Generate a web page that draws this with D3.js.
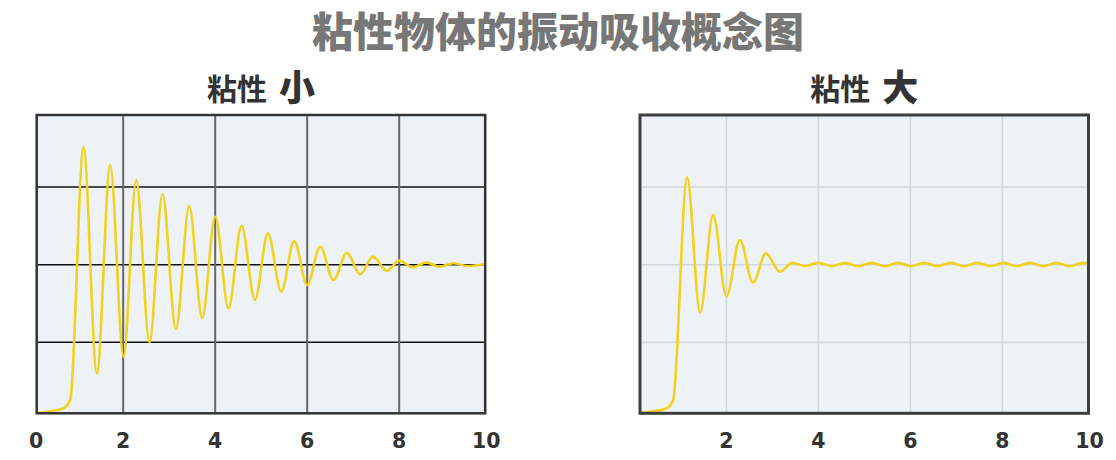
<!DOCTYPE html>
<html><head><meta charset="utf-8">
<script src="https://cdn.jsdelivr.net/npm/d3@7/dist/d3.min.js"></script>
<style>
html,body{margin:0;padding:0;background:#fff;}
svg{display:block;}
</style></head>
<body>
<svg id="c" width="1116" height="460"></svg>
<script>
const mainTitle = "粘性物体的振动吸收概念图";
const subTitles = [["粘性", "小"], ["粘性", "大"]];
const xTickValues = [[0, 2, 4, 6, 8, 10], [2, 4, 6, 8, 10]];
const xTickLabels = [["0", "2", "4", "6", "8", "10"], ["2", "4", "6", "8", "10"]];
const xGridValues = [2, 4, 6, 8];
const yGridValues = [0.5, 1.0, 1.5];

// low viscosity: response (extrema and knee points)
const lowX = [0.12, 0.41, 0.70, 0.85, 1.137, 1.428, 1.717, 2.007, 2.283, 2.572, 2.854, 3.146, 3.435, 3.717, 4.0, 4.289, 4.572, 4.863, 5.146, 5.435, 5.717, 6.0, 6.283, 6.572, 6.863, 7.152, 7.428, 7.733, 8.0, 8.298, 8.587, 8.876, 9.18, 9.472, 9.87];
const lowY = [0.045, 0.055, 0.075, 0.13, 1.756, 0.300, 1.642, 0.407, 1.546, 0.500, 1.456, 0.584, 1.378, 0.655, 1.309, 0.719, 1.251, 0.773, 1.202, 0.826, 1.153, 0.869, 1.116, 0.901, 1.077, 0.938, 1.052, 0.961, 1.026, 0.983, 1.015, 0.987, 1.009, 0.992, 1.005];

// high viscosity
const highX = [0.12, 0.41, 0.70, 0.84, 1.143, 1.426, 1.709, 2.0, 2.289, 2.578, 2.854, 3.159, 3.425, 3.71, 4.0, 4.29, 4.575, 4.86, 5.15, 5.44, 5.725, 6.01, 6.3, 6.59, 6.875, 7.16, 7.45, 7.74, 8.025, 8.31, 8.6, 8.89, 9.175, 9.46, 9.75, 9.875];
const highY = [0.045, 0.055, 0.075, 0.128, 1.563, 0.691, 1.320, 0.794, 1.159, 0.884, 1.073, 0.955, 1.012, 0.992, 1.013, 0.991, 1.012, 0.990, 1.012, 0.991, 1.012, 0.990, 1.012, 0.991, 1.012, 0.990, 1.012, 0.991, 1.012, 0.990, 1.012, 0.991, 1.012, 0.990, 1.012, 1.008];

const svg = d3.select("#c");
const frameTop = 115, frameBottom = 413.3, frameW = 448.5;
const y = d3.scaleLinear().domain([0, 2]).range([419.9, 109.5]);

svg.append("text").attr("x", 558).attr("y", 47).attr("text-anchor", "middle")
  .attr("font-family", "'Noto Sans CJK SC', sans-serif").attr("font-weight", 900)
  .attr("font-size", 41).attr("fill", "#777").text(mainTitle);

const charts = [
  {left: 36.7, xs: lowX, ys: lowY, dark: true},
  {left: 640, xs: highX, ys: highY, dark: false}
];

charts.forEach((c, i) => {
  const g = svg.append("g");
  const x = d3.scaleLinear().domain([0, 10]).range([c.left - 5.5, c.left - 5.5 + 460]);
  const L = c.left, R = c.left + frameW;
  const cx = (L + R) / 2;

  // subtitle
  const st = g.append("text").attr("x", cx).attr("y", 99.5).attr("text-anchor", "middle")
    .attr("font-family", "'Noto Sans CJK SC', sans-serif").attr("font-weight", 700).attr("fill", "#333");
  st.append("tspan").attr("font-size", 30).text(subTitles[i][0]);
  st.append("tspan").attr("font-size", 36).attr("font-weight", 900).attr("dx", 12).attr("dy", 1).text(subTitles[i][1]);

  // background
  g.append("rect").attr("x", L).attr("y", frameTop).attr("width", frameW).attr("height", frameBottom - frameTop)
    .attr("fill", "#eef2f7");

  // grid
  g.selectAll(".hg").data(yGridValues).join("line")
    .attr("x1", L).attr("x2", R).attr("y1", d => y(d)).attr("y2", d => y(d))
    .attr("stroke", c.dark ? "#111" : "#d3d7de").attr("stroke-width", 1.5);
  g.selectAll(".vg").data(xGridValues).join("line")
    .attr("x1", d => x(d)).attr("x2", d => x(d)).attr("y1", frameTop).attr("y2", frameBottom)
    .attr("stroke", c.dark ? "#666" : "#d3d7de").attr("stroke-width", c.dark ? 2 : 1.5);

  // clip
  const cid = "clip" + i;
  svg.append("clipPath").attr("id", cid).append("rect")
    .attr("x", L).attr("y", frameTop - 2).attr("width", frameW).attr("height", frameBottom - frameTop + 2);

  const pts = c.xs.map((v, k) => [v, c.ys[k]]);
  const line = d3.line().x(d => x(d[0])).y(d => y(d[1])).curve(d3.curveMonotoneX);
  g.append("path").attr("d", line(pts)).attr("fill", "none")
    .attr("stroke", "#f1d21f").attr("stroke-width", 2.6).attr("stroke-linejoin", "round")
    .attr("clip-path", `url(#${cid})`);

  // frame
  g.append("rect").attr("x", L).attr("y", frameTop).attr("width", frameW).attr("height", frameBottom - frameTop)
    .attr("fill", "none").attr("stroke", c.dark ? "#333" : "#3d3d3d").attr("stroke-width", c.dark ? 2.5 : 3);

  // tick labels (edge labels pinned to frame edges)
  const pos = v => Math.min(Math.max(x(v), L - 0.5), R + 1);
  g.selectAll(".tl").data(xTickValues[i]).join("text")
    .attr("x", d => pos(d)).attr("y", 448).attr("text-anchor", "middle")
    .attr("font-family", "'DejaVu Sans', Verdana, sans-serif").attr("font-weight", "bold")
    .attr("font-size", 20.5).attr("fill", "#333")
    .text((d, k) => xTickLabels[i][k]);
});
</script>
</body></html>
